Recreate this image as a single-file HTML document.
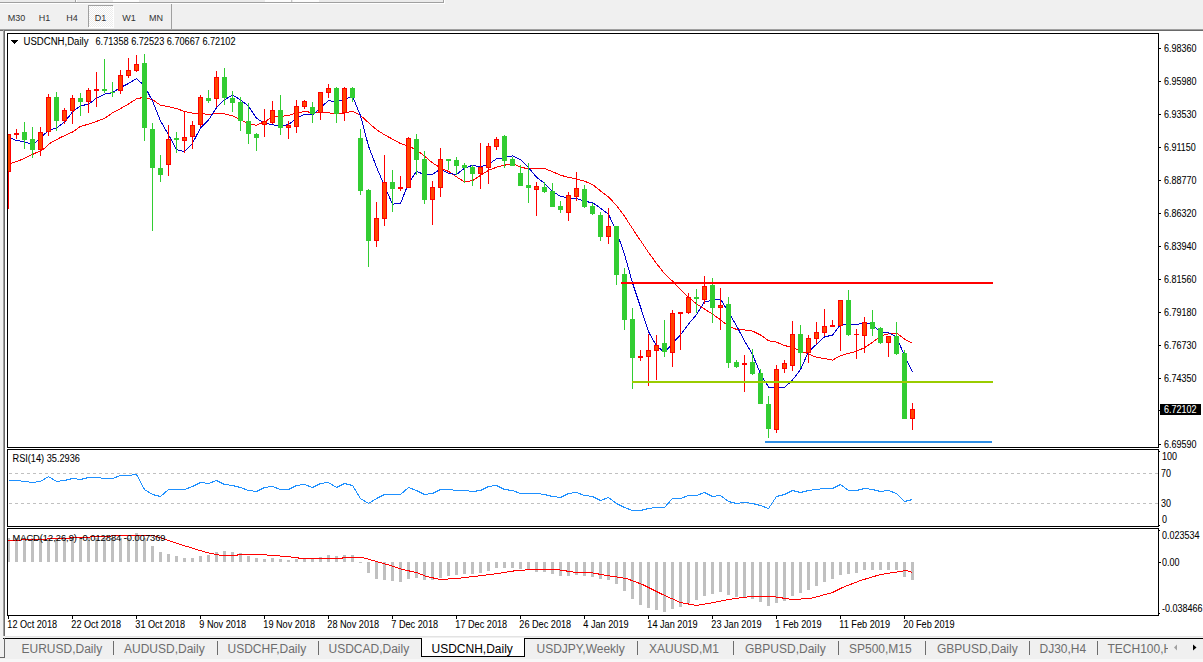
<!DOCTYPE html>
<html><head><meta charset="utf-8"><style>
html,body{margin:0;padding:0;width:1203px;height:662px;overflow:hidden;background:#f0f0f0;font-family:"Liberation Sans",sans-serif;}
svg{display:block;}
</style></head><body>
<svg width="1203" height="662" viewBox="0 0 1203 662" font-family="Liberation Sans, sans-serif"><rect x="0" y="0" width="1203" height="662" fill="#f0f0f0"/>
<rect x="0" y="0" width="443" height="2" fill="#ebebeb"/>
<rect x="75" y="0" width="1" height="2" fill="#a0a0a0"/>
<rect x="76" y="0" width="1" height="2" fill="#ffffff"/>
<rect x="113" y="0" width="26" height="2" fill="#fcfcfc"/>
<rect x="265" y="0" width="26" height="2" fill="#fcfcfc"/>
<rect x="291" y="0" width="1" height="2" fill="#c8c8c8"/>
<rect x="293" y="0" width="26" height="2" fill="#fcfcfc"/>
<rect x="0" y="2" width="444" height="1" fill="#a0a0a0"/>
<rect x="0" y="3" width="445" height="1" fill="#ffffff"/>
<rect x="443" y="0" width="1" height="3" fill="#a0a0a0"/>
<rect x="444" y="0" width="1" height="4" fill="#ffffff"/>
<defs><pattern id="chk" width="2" height="2" patternUnits="userSpaceOnUse"><rect width="2" height="2" fill="#ffffff"/><rect width="1" height="1" fill="#ececec"/><rect x="1" y="1" width="1" height="1" fill="#ececec"/></pattern></defs>
<rect x="88" y="5" width="25" height="22" fill="#a0a0a0"/>
<rect x="89" y="6" width="25" height="22" fill="#ffffff"/>
<rect x="89" y="6" width="24" height="21" fill="url(#chk)"/>
<rect x="171" y="4" width="1" height="25" fill="#a0a0a0"/>
<text x="16.5" y="21" font-size="9" fill="#333333" text-anchor="middle">M30</text>
<text x="44.5" y="21" font-size="9" fill="#333333" text-anchor="middle">H1</text>
<text x="72" y="21" font-size="9" fill="#333333" text-anchor="middle">H4</text>
<text x="100.5" y="21" font-size="9" fill="#333333" text-anchor="middle">D1</text>
<text x="129" y="21" font-size="9" fill="#333333" text-anchor="middle">W1</text>
<text x="156" y="21" font-size="9" fill="#333333" text-anchor="middle">MN</text>
<rect x="0" y="29" width="1203" height="1" fill="#a0a0a0"/>
<rect x="0" y="30" width="1203" height="1" fill="#696969"/>
<rect x="3" y="29" width="1" height="607" fill="#a0a0a0"/>
<rect x="4" y="30" width="1" height="606" fill="#696969"/>
<rect x="5" y="31" width="1198" height="605" fill="#ffffff"/>
<rect x="7" y="33" width="1152" height="1" fill="#000"/>
<rect x="7" y="447" width="1152" height="1" fill="#000"/>
<rect x="7" y="33" width="1" height="415" fill="#000"/>
<rect x="1158" y="33" width="1" height="415" fill="#000"/>
<rect x="7" y="449" width="1152" height="1" fill="#000"/>
<rect x="7" y="526" width="1152" height="1" fill="#000"/>
<rect x="7" y="449" width="1" height="78" fill="#000"/>
<rect x="1158" y="449" width="1" height="78" fill="#000"/>
<rect x="7" y="528" width="1152" height="1" fill="#000"/>
<rect x="7" y="615" width="1152" height="1" fill="#000"/>
<rect x="7" y="528" width="1" height="88" fill="#000"/>
<rect x="1158" y="528" width="1" height="88" fill="#000"/>
<g shape-rendering="crispEdges">
<rect x="1159" y="48" width="2" height="1" fill="#000"/>
<text transform="translate(1164.0,52) scale(0.9,1)" font-size="10" fill="#000" stroke="#000" stroke-width="0.06" >6.98360</text>
<rect x="1159" y="81" width="2" height="1" fill="#000"/>
<text transform="translate(1164.0,85) scale(0.9,1)" font-size="10" fill="#000" stroke="#000" stroke-width="0.06" >6.95980</text>
<rect x="1159" y="114" width="2" height="1" fill="#000"/>
<text transform="translate(1164.0,118) scale(0.9,1)" font-size="10" fill="#000" stroke="#000" stroke-width="0.06" >6.93530</text>
<rect x="1159" y="147" width="2" height="1" fill="#000"/>
<text transform="translate(1164.0,151) scale(0.9,1)" font-size="10" fill="#000" stroke="#000" stroke-width="0.06" >6.91150</text>
<rect x="1159" y="180" width="2" height="1" fill="#000"/>
<text transform="translate(1164.0,184) scale(0.9,1)" font-size="10" fill="#000" stroke="#000" stroke-width="0.06" >6.88770</text>
<rect x="1159" y="213" width="2" height="1" fill="#000"/>
<text transform="translate(1164.0,217) scale(0.9,1)" font-size="10" fill="#000" stroke="#000" stroke-width="0.06" >6.86320</text>
<rect x="1159" y="246" width="2" height="1" fill="#000"/>
<text transform="translate(1164.0,250) scale(0.9,1)" font-size="10" fill="#000" stroke="#000" stroke-width="0.06" >6.83940</text>
<rect x="1159" y="279" width="2" height="1" fill="#000"/>
<text transform="translate(1164.0,283) scale(0.9,1)" font-size="10" fill="#000" stroke="#000" stroke-width="0.06" >6.81560</text>
<rect x="1159" y="312" width="2" height="1" fill="#000"/>
<text transform="translate(1164.0,316) scale(0.9,1)" font-size="10" fill="#000" stroke="#000" stroke-width="0.06" >6.79180</text>
<rect x="1159" y="345" width="2" height="1" fill="#000"/>
<text transform="translate(1164.0,349) scale(0.9,1)" font-size="10" fill="#000" stroke="#000" stroke-width="0.06" >6.76730</text>
<rect x="1159" y="378" width="2" height="1" fill="#000"/>
<text transform="translate(1164.0,382) scale(0.9,1)" font-size="10" fill="#000" stroke="#000" stroke-width="0.06" >6.74350</text>
<rect x="1159" y="444" width="2" height="1" fill="#000"/>
<text transform="translate(1164.0,448) scale(0.9,1)" font-size="10" fill="#000" stroke="#000" stroke-width="0.06" >6.69590</text>
<rect x="1160" y="404" width="41" height="11" fill="#000"/>
<rect x="1159" y="410" width="2" height="1" fill="#000"/>
<text transform="translate(1164.0,413) scale(0.9,1)" font-size="10" fill="#fff" stroke="#fff" stroke-width="0.06" >6.72102</text>
<rect x="1159" y="451" width="1" height="1" fill="#000"/>
<text transform="translate(1162.0,460) scale(0.9,1)" font-size="10" fill="#000" stroke="#000" stroke-width="0.06" >100</text>
<text transform="translate(1161.0,477) scale(0.9,1)" font-size="10" fill="#000" stroke="#000" stroke-width="0.06" >70</text>
<text transform="translate(1161.0,507) scale(0.9,1)" font-size="10" fill="#000" stroke="#000" stroke-width="0.06" >30</text>
<text transform="translate(1162.0,523) scale(0.9,1)" font-size="10" fill="#000" stroke="#000" stroke-width="0.06" >0</text>
<rect x="1159" y="525" width="1" height="1" fill="#000"/>
<rect x="1159" y="530" width="1" height="1" fill="#000"/>
<text transform="translate(1162.0,539) scale(0.9,1)" font-size="10" fill="#000" stroke="#000" stroke-width="0.06" >0.023534</text>
<rect x="1159" y="562" width="2" height="1" fill="#000"/>
<text transform="translate(1162.0,566) scale(0.9,1)" font-size="10" fill="#000" stroke="#000" stroke-width="0.06" >0.00</text>
<rect x="1159" y="613" width="1" height="1" fill="#000"/>
<text transform="translate(1162.0,612) scale(0.9,1)" font-size="10" fill="#000" stroke="#000" stroke-width="0.06" >-0.038466</text>
<rect x="8" y="616" width="1" height="3" fill="#000"/>
<text transform="translate(7.3,628) scale(0.915,1)" font-size="10" fill="#000" stroke="#000" stroke-width="0.06" >12 Oct 2018</text>
<rect x="72" y="616" width="1" height="3" fill="#000"/>
<text transform="translate(71.3,628) scale(0.915,1)" font-size="10" fill="#000" stroke="#000" stroke-width="0.06" >22 Oct 2018</text>
<rect x="136" y="616" width="1" height="3" fill="#000"/>
<text transform="translate(135.3,628) scale(0.915,1)" font-size="10" fill="#000" stroke="#000" stroke-width="0.06" >31 Oct 2018</text>
<rect x="200" y="616" width="1" height="3" fill="#000"/>
<text transform="translate(199.3,628) scale(0.915,1)" font-size="10" fill="#000" stroke="#000" stroke-width="0.06" >9 Nov 2018</text>
<rect x="264" y="616" width="1" height="3" fill="#000"/>
<text transform="translate(263.3,628) scale(0.915,1)" font-size="10" fill="#000" stroke="#000" stroke-width="0.06" >19 Nov 2018</text>
<rect x="328" y="616" width="1" height="3" fill="#000"/>
<text transform="translate(327.3,628) scale(0.915,1)" font-size="10" fill="#000" stroke="#000" stroke-width="0.06" >28 Nov 2018</text>
<rect x="392" y="616" width="1" height="3" fill="#000"/>
<text transform="translate(391.3,628) scale(0.915,1)" font-size="10" fill="#000" stroke="#000" stroke-width="0.06" >7 Dec 2018</text>
<rect x="456" y="616" width="1" height="3" fill="#000"/>
<text transform="translate(455.3,628) scale(0.915,1)" font-size="10" fill="#000" stroke="#000" stroke-width="0.06" >17 Dec 2018</text>
<rect x="520" y="616" width="1" height="3" fill="#000"/>
<text transform="translate(519.3,628) scale(0.915,1)" font-size="10" fill="#000" stroke="#000" stroke-width="0.06" >26 Dec 2018</text>
<rect x="584" y="616" width="1" height="3" fill="#000"/>
<text transform="translate(583.3,628) scale(0.915,1)" font-size="10" fill="#000" stroke="#000" stroke-width="0.06" >4 Jan 2019</text>
<rect x="648" y="616" width="1" height="3" fill="#000"/>
<text transform="translate(647.3,628) scale(0.915,1)" font-size="10" fill="#000" stroke="#000" stroke-width="0.06" >14 Jan 2019</text>
<rect x="712" y="616" width="1" height="3" fill="#000"/>
<text transform="translate(711.3,628) scale(0.915,1)" font-size="10" fill="#000" stroke="#000" stroke-width="0.06" >23 Jan 2019</text>
<rect x="776" y="616" width="1" height="3" fill="#000"/>
<text transform="translate(775.3,628) scale(0.915,1)" font-size="10" fill="#000" stroke="#000" stroke-width="0.06" >1 Feb 2019</text>
<rect x="840" y="616" width="1" height="3" fill="#000"/>
<text transform="translate(839.3,628) scale(0.915,1)" font-size="10" fill="#000" stroke="#000" stroke-width="0.06" >11 Feb 2019</text>
<rect x="904" y="616" width="1" height="3" fill="#000"/>
<text transform="translate(903.3,628) scale(0.915,1)" font-size="10" fill="#000" stroke="#000" stroke-width="0.06" >20 Feb 2019</text>
<line x1="8" y1="473.5" x2="1158" y2="473.5" stroke="#c0c0c0" stroke-width="1" stroke-dasharray="3,3" transform="translate(1,0)"/>
<line x1="8" y1="503.5" x2="1158" y2="503.5" stroke="#c0c0c0" stroke-width="1" stroke-dasharray="3,3" transform="translate(1,0)"/>
<polyline points="8.5,480.5 16.5,480.5 24.5,481.5 32.5,482.5 40.5,481.5 48.5,476.5 56.5,481.5 64.5,480.5 72.5,478.5 80.5,479.5 88.5,477.5 96.5,477.5 104.5,478.5 112.5,478.5 120.5,475.5 128.5,475.5 136.5,474.5 144.5,489.5 152.5,494.5 160.5,496.5 168.5,489.5 176.5,489.5 184.5,489.5 192.5,486.5 200.5,482.5 208.5,483.5 216.5,480.5 224.5,484.5 232.5,485.5 240.5,487.5 248.5,490.5 256.5,491.5 264.5,487.5 272.5,486.5 280.5,489.5 288.5,489.5 296.5,485.5 304.5,484.5 312.5,487.5 320.5,483.5 328.5,482.5 336.5,487.5 344.5,483.5 352.5,485.5 360.5,498.5 368.5,503.5 376.5,498.5 384.5,494.5 392.5,494.5 400.5,494.5 408.5,487.5 416.5,490.5 424.5,494.5 432.5,493.5 440.5,489.5 448.5,489.5 456.5,490.5 464.5,490.5 472.5,491.5 480.5,490.5 488.5,486.5 496.5,485.5 504.5,489.5 512.5,490.5 520.5,493.5 528.5,493.5 536.5,493.5 544.5,494.5 552.5,496.5 560.5,497.5 568.5,493.5 576.5,492.5 584.5,495.5 592.5,496.5 600.5,500.5 608.5,497.5 616.5,503.5 624.5,507.5 632.5,510.5 640.5,510.5 648.5,508.5 656.5,507.5 664.5,507.5 672.5,498.5 680.5,498.5 688.5,495.5 696.5,495.5 704.5,492.5 712.5,496.5 720.5,495.5 728.5,501.5 736.5,503.5 744.5,502.5 752.5,503.5 760.5,505.5 768.5,508.5 776.5,496.5 784.5,494.5 792.5,490.5 800.5,492.5 808.5,490.5 816.5,489.5 824.5,488.5 832.5,488.5 840.5,484.5 848.5,490.5 856.5,490.5 864.5,488.5 872.5,489.5 880.5,491.5 888.5,490.5 896.5,493.5 904.5,501.5 912.5,499.5" fill="none" stroke="#1e90ff" stroke-width="1"/>
<text transform="translate(12.5,462) scale(0.92,1)" font-size="10" fill="#000" stroke="#000" stroke-width="0.06" >RSI(14) 35.2936</text>
<clipPath id="macdclip"><rect x="8" y="529" width="1150" height="86"/></clipPath>
<g clip-path="url(#macdclip)">
<rect x="7" y="538" width="3" height="24" fill="#c0c0c0"/>
<rect x="15" y="538" width="3" height="24" fill="#c0c0c0"/>
<rect x="23" y="538" width="3" height="24" fill="#c0c0c0"/>
<rect x="31" y="538" width="3" height="24" fill="#c0c0c0"/>
<rect x="39" y="538" width="3" height="24" fill="#c0c0c0"/>
<rect x="47" y="538" width="3" height="24" fill="#c0c0c0"/>
<rect x="55" y="538" width="3" height="24" fill="#c0c0c0"/>
<rect x="63" y="538" width="3" height="24" fill="#c0c0c0"/>
<rect x="71" y="538" width="3" height="24" fill="#c0c0c0"/>
<rect x="79" y="538" width="3" height="24" fill="#c0c0c0"/>
<rect x="87" y="538" width="3" height="24" fill="#c0c0c0"/>
<rect x="95" y="538" width="3" height="24" fill="#c0c0c0"/>
<rect x="103" y="538" width="3" height="24" fill="#c0c0c0"/>
<rect x="111" y="538" width="3" height="24" fill="#c0c0c0"/>
<rect x="119" y="538" width="3" height="24" fill="#c0c0c0"/>
<rect x="127" y="538" width="3" height="24" fill="#c0c0c0"/>
<rect x="135" y="533" width="3" height="29" fill="#c0c0c0"/>
<rect x="143" y="538" width="3" height="24" fill="#c0c0c0"/>
<rect x="151" y="546" width="3" height="16" fill="#c0c0c0"/>
<rect x="159" y="552" width="3" height="10" fill="#c0c0c0"/>
<rect x="167" y="554" width="3" height="8" fill="#c0c0c0"/>
<rect x="175" y="556" width="3" height="6" fill="#c0c0c0"/>
<rect x="183" y="558" width="3" height="4" fill="#c0c0c0"/>
<rect x="191" y="558" width="3" height="4" fill="#c0c0c0"/>
<rect x="199" y="556" width="3" height="6" fill="#c0c0c0"/>
<rect x="207" y="555" width="3" height="7" fill="#c0c0c0"/>
<rect x="215" y="552" width="3" height="10" fill="#c0c0c0"/>
<rect x="223" y="551" width="3" height="11" fill="#c0c0c0"/>
<rect x="231" y="552" width="3" height="10" fill="#c0c0c0"/>
<rect x="239" y="553" width="3" height="9" fill="#c0c0c0"/>
<rect x="247" y="556" width="3" height="6" fill="#c0c0c0"/>
<rect x="255" y="558" width="3" height="4" fill="#c0c0c0"/>
<rect x="263" y="559" width="3" height="3" fill="#c0c0c0"/>
<rect x="271" y="558" width="3" height="4" fill="#c0c0c0"/>
<rect x="279" y="559" width="3" height="3" fill="#c0c0c0"/>
<rect x="287" y="560" width="3" height="2" fill="#c0c0c0"/>
<rect x="295" y="559" width="3" height="3" fill="#c0c0c0"/>
<rect x="303" y="558" width="3" height="4" fill="#c0c0c0"/>
<rect x="311" y="558" width="3" height="4" fill="#c0c0c0"/>
<rect x="319" y="557" width="3" height="5" fill="#c0c0c0"/>
<rect x="327" y="555" width="3" height="7" fill="#c0c0c0"/>
<rect x="335" y="556" width="3" height="6" fill="#c0c0c0"/>
<rect x="343" y="555" width="3" height="7" fill="#c0c0c0"/>
<rect x="351" y="555" width="3" height="7" fill="#c0c0c0"/>
<rect x="359" y="562" width="3" height="1" fill="#c0c0c0"/>
<rect x="367" y="562" width="3" height="11" fill="#c0c0c0"/>
<rect x="375" y="562" width="3" height="17" fill="#c0c0c0"/>
<rect x="383" y="562" width="3" height="18" fill="#c0c0c0"/>
<rect x="391" y="562" width="3" height="19" fill="#c0c0c0"/>
<rect x="399" y="562" width="3" height="20" fill="#c0c0c0"/>
<rect x="407" y="562" width="3" height="17" fill="#c0c0c0"/>
<rect x="415" y="562" width="3" height="16" fill="#c0c0c0"/>
<rect x="423" y="562" width="3" height="18" fill="#c0c0c0"/>
<rect x="431" y="562" width="3" height="18" fill="#c0c0c0"/>
<rect x="439" y="562" width="3" height="16" fill="#c0c0c0"/>
<rect x="447" y="562" width="3" height="14" fill="#c0c0c0"/>
<rect x="455" y="562" width="3" height="13" fill="#c0c0c0"/>
<rect x="463" y="562" width="3" height="12" fill="#c0c0c0"/>
<rect x="471" y="562" width="3" height="12" fill="#c0c0c0"/>
<rect x="479" y="562" width="3" height="11" fill="#c0c0c0"/>
<rect x="487" y="562" width="3" height="9" fill="#c0c0c0"/>
<rect x="495" y="562" width="3" height="6" fill="#c0c0c0"/>
<rect x="503" y="562" width="3" height="6" fill="#c0c0c0"/>
<rect x="511" y="562" width="3" height="6" fill="#c0c0c0"/>
<rect x="519" y="562" width="3" height="7" fill="#c0c0c0"/>
<rect x="527" y="562" width="3" height="8" fill="#c0c0c0"/>
<rect x="535" y="562" width="3" height="10" fill="#c0c0c0"/>
<rect x="543" y="562" width="3" height="10" fill="#c0c0c0"/>
<rect x="551" y="562" width="3" height="12" fill="#c0c0c0"/>
<rect x="559" y="562" width="3" height="14" fill="#c0c0c0"/>
<rect x="567" y="562" width="3" height="14" fill="#c0c0c0"/>
<rect x="575" y="562" width="3" height="13" fill="#c0c0c0"/>
<rect x="583" y="562" width="3" height="14" fill="#c0c0c0"/>
<rect x="591" y="562" width="3" height="15" fill="#c0c0c0"/>
<rect x="599" y="562" width="3" height="17" fill="#c0c0c0"/>
<rect x="607" y="562" width="3" height="18" fill="#c0c0c0"/>
<rect x="615" y="562" width="3" height="22" fill="#c0c0c0"/>
<rect x="623" y="562" width="3" height="29" fill="#c0c0c0"/>
<rect x="631" y="562" width="3" height="37" fill="#c0c0c0"/>
<rect x="639" y="562" width="3" height="43" fill="#c0c0c0"/>
<rect x="647" y="562" width="3" height="46" fill="#c0c0c0"/>
<rect x="655" y="562" width="3" height="48" fill="#c0c0c0"/>
<rect x="663" y="562" width="3" height="50" fill="#c0c0c0"/>
<rect x="671" y="562" width="3" height="47" fill="#c0c0c0"/>
<rect x="679" y="562" width="3" height="45" fill="#c0c0c0"/>
<rect x="687" y="562" width="3" height="41" fill="#c0c0c0"/>
<rect x="695" y="562" width="3" height="38" fill="#c0c0c0"/>
<rect x="703" y="562" width="3" height="34" fill="#c0c0c0"/>
<rect x="711" y="562" width="3" height="32" fill="#c0c0c0"/>
<rect x="719" y="562" width="3" height="30" fill="#c0c0c0"/>
<rect x="727" y="562" width="3" height="33" fill="#c0c0c0"/>
<rect x="735" y="562" width="3" height="35" fill="#c0c0c0"/>
<rect x="743" y="562" width="3" height="35" fill="#c0c0c0"/>
<rect x="751" y="562" width="3" height="37" fill="#c0c0c0"/>
<rect x="759" y="562" width="3" height="40" fill="#c0c0c0"/>
<rect x="767" y="562" width="3" height="44" fill="#c0c0c0"/>
<rect x="775" y="562" width="3" height="41" fill="#c0c0c0"/>
<rect x="783" y="562" width="3" height="39" fill="#c0c0c0"/>
<rect x="791" y="562" width="3" height="34" fill="#c0c0c0"/>
<rect x="799" y="562" width="3" height="31" fill="#c0c0c0"/>
<rect x="807" y="562" width="3" height="28" fill="#c0c0c0"/>
<rect x="815" y="562" width="3" height="24" fill="#c0c0c0"/>
<rect x="823" y="562" width="3" height="20" fill="#c0c0c0"/>
<rect x="831" y="562" width="3" height="17" fill="#c0c0c0"/>
<rect x="839" y="562" width="3" height="13" fill="#c0c0c0"/>
<rect x="847" y="562" width="3" height="12" fill="#c0c0c0"/>
<rect x="855" y="562" width="3" height="11" fill="#c0c0c0"/>
<rect x="863" y="562" width="3" height="8" fill="#c0c0c0"/>
<rect x="871" y="562" width="3" height="8" fill="#c0c0c0"/>
<rect x="879" y="562" width="3" height="8" fill="#c0c0c0"/>
<rect x="887" y="562" width="3" height="8" fill="#c0c0c0"/>
<rect x="895" y="562" width="3" height="8" fill="#c0c0c0"/>
<rect x="903" y="562" width="3" height="15" fill="#c0c0c0"/>
<rect x="911" y="562" width="3" height="18" fill="#c0c0c0"/>
<polyline points="8.5,540.5 60.5,538.5 100.5,536.5 121.5,535.5 153.5,535.5 165.5,539.5 180.5,544.5 193.5,548.5 206.5,552.5 216.5,554.5 221.5,555.5 234.5,555.5 240.5,554.5 260.5,554.5 286.5,556.5 302.5,558.5 340.5,558.5 344.5,557.5 362.5,557.5 376.5,561.5 390.5,565.5 402.5,569.5 416.5,572.5 426.5,576.5 440.5,579.5 456.5,578.5 482.5,575.5 498.5,573.5 516.5,570.5 534.5,569.5 556.5,569.5 576.5,572.5 590.5,572.5 606.5,575.5 626.5,578.5 642.5,584.5 662.5,594.5 680.5,602.5 696.5,605.5 708.5,603.5 728.5,599.5 750.5,596.5 772.5,596.5 792.5,599.5 810.5,598.5 832.5,592.5 842.5,587.5 860.5,580.5 880.5,574.5 900.5,571.5 906.5,570.5 912.5,572.5" fill="none" stroke="#ff0000" stroke-width="1"/>
</g>
<text x="12.5" y="540.5" font-size="9.3" fill="#000" stroke="#000" stroke-width="0.06" textLength="153" lengthAdjust="spacingAndGlyphs">MACD(12,26,9) -0.012884 -0.007369</text>
<clipPath id="mainclip"><rect x="8" y="34" width="1150" height="413"/></clipPath>
<g clip-path="url(#mainclip)">
<polyline points="11.1,163.5 21.8,159.5 32.4,154.5 43.1,149.5 49.7,143.5 60.4,137.5 73.6,131.5 80.3,126.5 90.9,123.5 104.2,118.5 112.5,112.9 120.5,108.6 128.5,104.1 136.5,98.8 144.5,97.2 152.5,99.7 160.5,105.2 168.5,106.6 176.5,108.6 184.5,111.4 192.5,113.1 200.5,113.6 208.5,114.4 216.5,113.5 224.5,113.9 232.5,115.9 240.5,119.4 248.5,124.4 256.5,125.1 264.5,121.8 272.5,117.2 280.5,116.4 288.5,115.4 296.5,113.1 304.5,111.4 312.5,112.6 320.5,112.0 328.5,112.8 336.5,113.9 344.5,112.9 352.5,111.3 360.5,115.4 368.5,122.7 376.5,129.6 384.5,134.8 392.5,139.1 400.5,143.6 408.5,145.9 416.5,150.0 424.5,156.1 432.5,162.9 440.5,168.0 448.5,171.4 456.5,176.9 464.5,181.9 472.5,180.6 480.5,175.4 488.5,170.3 496.5,167.2 504.5,165.2 512.5,163.6 520.5,167.0 528.5,169.0 536.5,168.1 544.5,168.4 552.5,171.7 560.5,175.2 568.5,177.4 576.5,178.9 584.5,181.2 592.5,184.5 600.5,190.9 608.5,197.1 616.5,205.3 624.5,216.3 632.5,228.6 640.5,240.6 648.5,252.4 656.5,263.4 664.5,273.7 672.5,281.1 680.5,289.5 688.5,297.3 696.5,303.9 704.5,309.1 712.5,314.1 720.5,319.8 728.5,326.1 736.5,329.4 744.5,329.9 752.5,331.1 760.5,334.9 768.5,340.8 776.5,342.1 784.5,345.6 792.5,347.2 800.5,351.1 808.5,354.0 816.5,357.3 824.5,358.6 832.5,360.1 840.5,355.6 848.5,353.4 856.5,351.3 864.5,347.6 872.5,342.3 880.5,336.1 888.5,333.8 896.5,333.1 904.5,339.1 912.5,343.1" fill="none" stroke="#ff0000" stroke-width="1"/>
<polyline points="11.4,138.5 16.2,140.5 22.9,141.5 30.1,143.5 35.6,142.5 40.5,137.9 48.5,130.5 56.5,127.9 64.5,122.1 72.5,111.9 80.5,105.7 88.5,104.3 96.5,98.1 104.5,94.1 112.5,92.7 120.5,87.5 128.5,83.5 136.5,78.5 144.5,85.9 152.5,101.1 160.5,120.9 168.5,134.7 176.5,149.7 184.5,151.7 192.5,143.3 200.5,127.9 208.5,120.1 216.5,107.7 224.5,99.7 232.5,95.1 240.5,99.7 248.5,106.3 256.5,118.3 264.5,123.1 272.5,124.7 280.5,126.1 288.5,124.5 296.5,118.3 304.5,114.3 312.5,114.9 320.5,107.9 328.5,100.5 336.5,101.9 344.5,99.3 352.5,96.1 360.5,115.7 368.5,146.1 376.5,167.1 384.5,185.9 392.5,204.1 400.5,203.5 408.5,183.1 416.5,171.3 424.5,174.7 432.5,174.5 440.5,168.9 448.5,173.3 456.5,174.5 464.5,168.1 472.5,165.3 480.5,166.9 488.5,164.1 496.5,158.9 504.5,157.5 512.5,155.9 520.5,159.5 528.5,167.7 536.5,177.1 544.5,183.3 552.5,191.5 560.5,196.3 568.5,197.9 576.5,198.3 584.5,201.3 592.5,202.7 600.5,208.1 608.5,214.3 616.5,231.5 624.5,254.1 632.5,282.9 640.5,306.9 648.5,331.7 656.5,345.9 664.5,352.3 672.5,343.5 680.5,334.7 688.5,324.1 696.5,314.7 704.5,301.7 712.5,300.5 720.5,299.1 728.5,312.1 736.5,325.7 744.5,341.1 752.5,354.3 760.5,373.9 768.5,387.1 776.5,387.7 784.5,387.7 792.5,379.9 800.5,369.7 808.5,351.7 816.5,344.3 824.5,336.9 832.5,335.1 840.5,324.7 848.5,323.9 856.5,324.3 864.5,323.5 872.5,324.1 880.5,332.5 888.5,332.9 896.5,336.7 904.5,355.9 912.5,372.1" fill="none" stroke="#0000cd" stroke-width="1"/>
<rect x="8" y="134" width="1" height="75" fill="#ff0000"/>
<rect x="6" y="134" width="5" height="38" fill="#ff0000"/>
<rect x="7" y="135" width="3" height="36" fill="#ff4500"/>
<rect x="16" y="129" width="1" height="10" fill="#ff0000"/>
<rect x="14" y="133" width="5" height="2" fill="#ff0000"/>
<rect x="24" y="122" width="1" height="27" fill="#32cd32"/>
<rect x="22" y="132" width="5" height="8" fill="#32cd32"/>
<rect x="32" y="127" width="1" height="31" fill="#32cd32"/>
<rect x="30" y="139" width="5" height="11" fill="#32cd32"/>
<rect x="40" y="127" width="1" height="29" fill="#ff0000"/>
<rect x="38" y="132" width="5" height="18" fill="#ff0000"/>
<rect x="39" y="133" width="3" height="16" fill="#ff4500"/>
<rect x="48" y="94" width="1" height="42" fill="#ff0000"/>
<rect x="46" y="97" width="5" height="35" fill="#ff0000"/>
<rect x="47" y="98" width="3" height="33" fill="#ff4500"/>
<rect x="56" y="92" width="1" height="39" fill="#32cd32"/>
<rect x="54" y="97" width="5" height="24" fill="#32cd32"/>
<rect x="64" y="108" width="1" height="16" fill="#ff0000"/>
<rect x="62" y="110" width="5" height="11" fill="#ff0000"/>
<rect x="63" y="111" width="3" height="9" fill="#ff4500"/>
<rect x="72" y="95" width="1" height="29" fill="#ff0000"/>
<rect x="70" y="98" width="5" height="13" fill="#ff0000"/>
<rect x="71" y="99" width="3" height="11" fill="#ff4500"/>
<rect x="80" y="93" width="1" height="23" fill="#32cd32"/>
<rect x="78" y="98" width="5" height="4" fill="#32cd32"/>
<rect x="88" y="88" width="1" height="25" fill="#ff0000"/>
<rect x="86" y="90" width="5" height="12" fill="#ff0000"/>
<rect x="87" y="91" width="3" height="10" fill="#ff4500"/>
<rect x="96" y="72" width="1" height="35" fill="#ff0000"/>
<rect x="94" y="89" width="5" height="2" fill="#ff0000"/>
<rect x="104" y="59" width="1" height="34" fill="#32cd32"/>
<rect x="102" y="89" width="5" height="2" fill="#32cd32"/>
<rect x="112" y="82" width="1" height="15" fill="#32cd32"/>
<rect x="110" y="92" width="5" height="1" fill="#32cd32"/>
<rect x="120" y="70" width="1" height="24" fill="#ff0000"/>
<rect x="118" y="75" width="5" height="16" fill="#ff0000"/>
<rect x="119" y="76" width="3" height="14" fill="#ff4500"/>
<rect x="128" y="58" width="1" height="20" fill="#ff0000"/>
<rect x="126" y="70" width="5" height="6" fill="#ff0000"/>
<rect x="127" y="71" width="3" height="4" fill="#ff4500"/>
<rect x="136" y="55" width="1" height="17" fill="#ff0000"/>
<rect x="134" y="64" width="5" height="7" fill="#ff0000"/>
<rect x="135" y="65" width="3" height="5" fill="#ff4500"/>
<rect x="144" y="54" width="1" height="87" fill="#32cd32"/>
<rect x="142" y="63" width="5" height="65" fill="#32cd32"/>
<rect x="152" y="123" width="1" height="108" fill="#32cd32"/>
<rect x="150" y="129" width="5" height="39" fill="#32cd32"/>
<rect x="160" y="155" width="1" height="27" fill="#32cd32"/>
<rect x="158" y="168" width="5" height="7" fill="#32cd32"/>
<rect x="168" y="125" width="1" height="51" fill="#ff0000"/>
<rect x="166" y="139" width="5" height="26" fill="#ff0000"/>
<rect x="167" y="140" width="3" height="24" fill="#ff4500"/>
<rect x="176" y="132" width="1" height="21" fill="#32cd32"/>
<rect x="174" y="138" width="5" height="2" fill="#32cd32"/>
<rect x="184" y="111" width="1" height="42" fill="#ff0000"/>
<rect x="182" y="137" width="5" height="4" fill="#ff0000"/>
<rect x="183" y="138" width="3" height="2" fill="#ff4500"/>
<rect x="192" y="121" width="1" height="28" fill="#ff0000"/>
<rect x="190" y="125" width="5" height="12" fill="#ff0000"/>
<rect x="191" y="126" width="3" height="10" fill="#ff4500"/>
<rect x="200" y="95" width="1" height="32" fill="#ff0000"/>
<rect x="198" y="97" width="5" height="28" fill="#ff0000"/>
<rect x="199" y="98" width="3" height="26" fill="#ff4500"/>
<rect x="208" y="90" width="1" height="13" fill="#32cd32"/>
<rect x="206" y="98" width="5" height="3" fill="#32cd32"/>
<rect x="216" y="71" width="1" height="36" fill="#ff0000"/>
<rect x="214" y="77" width="5" height="22" fill="#ff0000"/>
<rect x="215" y="78" width="3" height="20" fill="#ff4500"/>
<rect x="224" y="68" width="1" height="37" fill="#32cd32"/>
<rect x="222" y="77" width="5" height="21" fill="#32cd32"/>
<rect x="232" y="91" width="1" height="21" fill="#32cd32"/>
<rect x="230" y="98" width="5" height="5" fill="#32cd32"/>
<rect x="240" y="97" width="1" height="34" fill="#32cd32"/>
<rect x="238" y="102" width="5" height="19" fill="#32cd32"/>
<rect x="248" y="103" width="1" height="41" fill="#32cd32"/>
<rect x="246" y="121" width="5" height="13" fill="#32cd32"/>
<rect x="256" y="133" width="1" height="18" fill="#32cd32"/>
<rect x="254" y="134" width="5" height="4" fill="#32cd32"/>
<rect x="264" y="109" width="1" height="28" fill="#ff0000"/>
<rect x="262" y="121" width="5" height="4" fill="#ff0000"/>
<rect x="263" y="122" width="3" height="2" fill="#ff4500"/>
<rect x="272" y="101" width="1" height="23" fill="#ff0000"/>
<rect x="270" y="110" width="5" height="13" fill="#ff0000"/>
<rect x="271" y="111" width="3" height="11" fill="#ff4500"/>
<rect x="280" y="95" width="1" height="40" fill="#32cd32"/>
<rect x="278" y="110" width="5" height="18" fill="#32cd32"/>
<rect x="288" y="121" width="1" height="18" fill="#ff0000"/>
<rect x="286" y="125" width="5" height="3" fill="#ff0000"/>
<rect x="287" y="126" width="3" height="1" fill="#ff4500"/>
<rect x="296" y="100" width="1" height="33" fill="#ff0000"/>
<rect x="294" y="106" width="5" height="21" fill="#ff0000"/>
<rect x="295" y="107" width="3" height="19" fill="#ff4500"/>
<rect x="304" y="100" width="1" height="9" fill="#ff0000"/>
<rect x="302" y="101" width="5" height="6" fill="#ff0000"/>
<rect x="303" y="102" width="3" height="4" fill="#ff4500"/>
<rect x="312" y="102" width="1" height="21" fill="#32cd32"/>
<rect x="310" y="107" width="5" height="7" fill="#32cd32"/>
<rect x="320" y="92" width="1" height="28" fill="#ff0000"/>
<rect x="318" y="92" width="5" height="21" fill="#ff0000"/>
<rect x="319" y="93" width="3" height="19" fill="#ff4500"/>
<rect x="328" y="84" width="1" height="14" fill="#ff0000"/>
<rect x="326" y="88" width="5" height="5" fill="#ff0000"/>
<rect x="327" y="89" width="3" height="3" fill="#ff4500"/>
<rect x="336" y="87" width="1" height="36" fill="#32cd32"/>
<rect x="334" y="88" width="5" height="26" fill="#32cd32"/>
<rect x="344" y="87" width="1" height="34" fill="#ff0000"/>
<rect x="342" y="88" width="5" height="25" fill="#ff0000"/>
<rect x="343" y="89" width="3" height="23" fill="#ff4500"/>
<rect x="352" y="87" width="1" height="15" fill="#32cd32"/>
<rect x="350" y="88" width="5" height="10" fill="#32cd32"/>
<rect x="360" y="129" width="1" height="66" fill="#32cd32"/>
<rect x="358" y="138" width="5" height="53" fill="#32cd32"/>
<rect x="368" y="189" width="1" height="78" fill="#32cd32"/>
<rect x="366" y="190" width="5" height="51" fill="#32cd32"/>
<rect x="376" y="202" width="1" height="45" fill="#ff0000"/>
<rect x="374" y="218" width="5" height="23" fill="#ff0000"/>
<rect x="375" y="219" width="3" height="21" fill="#ff4500"/>
<rect x="384" y="155" width="1" height="71" fill="#ff0000"/>
<rect x="382" y="182" width="5" height="37" fill="#ff0000"/>
<rect x="383" y="183" width="3" height="35" fill="#ff4500"/>
<rect x="392" y="170" width="1" height="42" fill="#32cd32"/>
<rect x="390" y="182" width="5" height="7" fill="#32cd32"/>
<rect x="400" y="176" width="1" height="15" fill="#ff0000"/>
<rect x="398" y="187" width="5" height="2" fill="#ff0000"/>
<rect x="408" y="137" width="1" height="51" fill="#ff0000"/>
<rect x="406" y="138" width="5" height="50" fill="#ff0000"/>
<rect x="407" y="139" width="3" height="48" fill="#ff4500"/>
<rect x="416" y="134" width="1" height="41" fill="#32cd32"/>
<rect x="414" y="139" width="5" height="21" fill="#32cd32"/>
<rect x="424" y="151" width="1" height="53" fill="#32cd32"/>
<rect x="422" y="159" width="5" height="41" fill="#32cd32"/>
<rect x="432" y="181" width="1" height="44" fill="#ff0000"/>
<rect x="430" y="187" width="5" height="13" fill="#ff0000"/>
<rect x="431" y="188" width="3" height="11" fill="#ff4500"/>
<rect x="440" y="148" width="1" height="49" fill="#ff0000"/>
<rect x="438" y="159" width="5" height="29" fill="#ff0000"/>
<rect x="439" y="160" width="3" height="27" fill="#ff4500"/>
<rect x="448" y="159" width="1" height="11" fill="#32cd32"/>
<rect x="446" y="159" width="5" height="2" fill="#32cd32"/>
<rect x="456" y="157" width="1" height="18" fill="#32cd32"/>
<rect x="454" y="160" width="5" height="6" fill="#32cd32"/>
<rect x="464" y="163" width="1" height="20" fill="#32cd32"/>
<rect x="462" y="165" width="5" height="3" fill="#32cd32"/>
<rect x="472" y="165" width="1" height="21" fill="#32cd32"/>
<rect x="470" y="167" width="5" height="7" fill="#32cd32"/>
<rect x="480" y="143" width="1" height="46" fill="#ff0000"/>
<rect x="478" y="167" width="5" height="7" fill="#ff0000"/>
<rect x="479" y="168" width="3" height="5" fill="#ff4500"/>
<rect x="488" y="143" width="1" height="41" fill="#ff0000"/>
<rect x="486" y="146" width="5" height="22" fill="#ff0000"/>
<rect x="487" y="147" width="3" height="20" fill="#ff4500"/>
<rect x="496" y="137" width="1" height="13" fill="#ff0000"/>
<rect x="494" y="139" width="5" height="8" fill="#ff0000"/>
<rect x="495" y="140" width="3" height="6" fill="#ff4500"/>
<rect x="504" y="135" width="1" height="33" fill="#32cd32"/>
<rect x="502" y="136" width="5" height="25" fill="#32cd32"/>
<rect x="512" y="157" width="1" height="9" fill="#32cd32"/>
<rect x="510" y="159" width="5" height="7" fill="#32cd32"/>
<rect x="520" y="165" width="1" height="21" fill="#32cd32"/>
<rect x="518" y="173" width="5" height="13" fill="#32cd32"/>
<rect x="528" y="163" width="1" height="40" fill="#32cd32"/>
<rect x="526" y="185" width="5" height="3" fill="#32cd32"/>
<rect x="536" y="182" width="1" height="34" fill="#ff0000"/>
<rect x="534" y="186" width="5" height="4" fill="#ff0000"/>
<rect x="535" y="187" width="3" height="2" fill="#ff4500"/>
<rect x="544" y="182" width="1" height="11" fill="#32cd32"/>
<rect x="542" y="187" width="5" height="5" fill="#32cd32"/>
<rect x="552" y="183" width="1" height="24" fill="#32cd32"/>
<rect x="550" y="191" width="5" height="16" fill="#32cd32"/>
<rect x="560" y="201" width="1" height="12" fill="#32cd32"/>
<rect x="558" y="206" width="5" height="4" fill="#32cd32"/>
<rect x="568" y="192" width="1" height="29" fill="#ff0000"/>
<rect x="566" y="195" width="5" height="18" fill="#ff0000"/>
<rect x="567" y="196" width="3" height="16" fill="#ff4500"/>
<rect x="576" y="172" width="1" height="29" fill="#ff0000"/>
<rect x="574" y="188" width="5" height="9" fill="#ff0000"/>
<rect x="575" y="189" width="3" height="7" fill="#ff4500"/>
<rect x="584" y="185" width="1" height="23" fill="#32cd32"/>
<rect x="582" y="189" width="5" height="18" fill="#32cd32"/>
<rect x="592" y="203" width="1" height="12" fill="#32cd32"/>
<rect x="590" y="206" width="5" height="8" fill="#32cd32"/>
<rect x="600" y="212" width="1" height="29" fill="#32cd32"/>
<rect x="598" y="215" width="5" height="22" fill="#32cd32"/>
<rect x="608" y="208" width="1" height="36" fill="#ff0000"/>
<rect x="606" y="226" width="5" height="11" fill="#ff0000"/>
<rect x="607" y="227" width="3" height="9" fill="#ff4500"/>
<rect x="616" y="226" width="1" height="59" fill="#32cd32"/>
<rect x="614" y="226" width="5" height="49" fill="#32cd32"/>
<rect x="624" y="268" width="1" height="62" fill="#32cd32"/>
<rect x="622" y="274" width="5" height="46" fill="#32cd32"/>
<rect x="632" y="308" width="1" height="81" fill="#32cd32"/>
<rect x="630" y="319" width="5" height="39" fill="#32cd32"/>
<rect x="640" y="350" width="1" height="11" fill="#ff0000"/>
<rect x="638" y="356" width="5" height="2" fill="#ff0000"/>
<rect x="648" y="334" width="1" height="52" fill="#ff0000"/>
<rect x="646" y="350" width="5" height="7" fill="#ff0000"/>
<rect x="647" y="351" width="3" height="5" fill="#ff4500"/>
<rect x="656" y="335" width="1" height="45" fill="#ff0000"/>
<rect x="654" y="345" width="5" height="6" fill="#ff0000"/>
<rect x="655" y="346" width="3" height="4" fill="#ff4500"/>
<rect x="664" y="320" width="1" height="37" fill="#32cd32"/>
<rect x="662" y="343" width="5" height="9" fill="#32cd32"/>
<rect x="672" y="310" width="1" height="57" fill="#ff0000"/>
<rect x="670" y="313" width="5" height="40" fill="#ff0000"/>
<rect x="671" y="314" width="3" height="38" fill="#ff4500"/>
<rect x="680" y="312" width="1" height="38" fill="#ff0000"/>
<rect x="678" y="312" width="5" height="2" fill="#ff0000"/>
<rect x="688" y="293" width="1" height="21" fill="#ff0000"/>
<rect x="686" y="297" width="5" height="16" fill="#ff0000"/>
<rect x="687" y="298" width="3" height="14" fill="#ff4500"/>
<rect x="696" y="289" width="1" height="24" fill="#32cd32"/>
<rect x="694" y="297" width="5" height="2" fill="#32cd32"/>
<rect x="704" y="276" width="1" height="28" fill="#ff0000"/>
<rect x="702" y="286" width="5" height="14" fill="#ff0000"/>
<rect x="703" y="287" width="3" height="12" fill="#ff4500"/>
<rect x="712" y="278" width="1" height="45" fill="#32cd32"/>
<rect x="710" y="285" width="5" height="23" fill="#32cd32"/>
<rect x="720" y="288" width="1" height="42" fill="#ff0000"/>
<rect x="718" y="305" width="5" height="3" fill="#ff0000"/>
<rect x="719" y="306" width="3" height="1" fill="#ff4500"/>
<rect x="728" y="297" width="1" height="71" fill="#32cd32"/>
<rect x="726" y="304" width="5" height="59" fill="#32cd32"/>
<rect x="736" y="360" width="1" height="8" fill="#32cd32"/>
<rect x="734" y="362" width="5" height="5" fill="#32cd32"/>
<rect x="744" y="355" width="1" height="37" fill="#ff0000"/>
<rect x="742" y="363" width="5" height="2" fill="#ff0000"/>
<rect x="752" y="349" width="1" height="26" fill="#32cd32"/>
<rect x="750" y="362" width="5" height="12" fill="#32cd32"/>
<rect x="760" y="369" width="1" height="35" fill="#32cd32"/>
<rect x="758" y="373" width="5" height="31" fill="#32cd32"/>
<rect x="768" y="396" width="1" height="42" fill="#32cd32"/>
<rect x="766" y="404" width="5" height="25" fill="#32cd32"/>
<rect x="776" y="365" width="1" height="68" fill="#ff0000"/>
<rect x="774" y="369" width="5" height="61" fill="#ff0000"/>
<rect x="775" y="370" width="3" height="59" fill="#ff4500"/>
<rect x="784" y="360" width="1" height="13" fill="#ff0000"/>
<rect x="782" y="363" width="5" height="6" fill="#ff0000"/>
<rect x="783" y="364" width="3" height="4" fill="#ff4500"/>
<rect x="792" y="321" width="1" height="50" fill="#ff0000"/>
<rect x="790" y="334" width="5" height="32" fill="#ff0000"/>
<rect x="791" y="335" width="3" height="30" fill="#ff4500"/>
<rect x="800" y="325" width="1" height="43" fill="#32cd32"/>
<rect x="798" y="334" width="5" height="19" fill="#32cd32"/>
<rect x="808" y="335" width="1" height="28" fill="#ff0000"/>
<rect x="806" y="338" width="5" height="15" fill="#ff0000"/>
<rect x="807" y="339" width="3" height="13" fill="#ff4500"/>
<rect x="816" y="322" width="1" height="22" fill="#ff0000"/>
<rect x="814" y="332" width="5" height="7" fill="#ff0000"/>
<rect x="815" y="333" width="3" height="5" fill="#ff4500"/>
<rect x="824" y="309" width="1" height="27" fill="#ff0000"/>
<rect x="822" y="326" width="5" height="7" fill="#ff0000"/>
<rect x="823" y="327" width="3" height="5" fill="#ff4500"/>
<rect x="832" y="320" width="1" height="7" fill="#ff0000"/>
<rect x="830" y="325" width="5" height="2" fill="#ff0000"/>
<rect x="840" y="300" width="1" height="51" fill="#ff0000"/>
<rect x="838" y="300" width="5" height="26" fill="#ff0000"/>
<rect x="839" y="301" width="3" height="24" fill="#ff4500"/>
<rect x="848" y="290" width="1" height="46" fill="#32cd32"/>
<rect x="846" y="300" width="5" height="35" fill="#32cd32"/>
<rect x="856" y="329" width="1" height="30" fill="#ff0000"/>
<rect x="854" y="334" width="5" height="1" fill="#ff0000"/>
<rect x="864" y="317" width="1" height="36" fill="#ff0000"/>
<rect x="862" y="322" width="5" height="14" fill="#ff0000"/>
<rect x="863" y="323" width="3" height="12" fill="#ff4500"/>
<rect x="872" y="310" width="1" height="26" fill="#32cd32"/>
<rect x="870" y="322" width="5" height="7" fill="#32cd32"/>
<rect x="880" y="327" width="1" height="17" fill="#32cd32"/>
<rect x="878" y="328" width="5" height="15" fill="#32cd32"/>
<rect x="888" y="336" width="1" height="21" fill="#ff0000"/>
<rect x="886" y="336" width="5" height="7" fill="#ff0000"/>
<rect x="887" y="337" width="3" height="5" fill="#ff4500"/>
<rect x="896" y="322" width="1" height="33" fill="#32cd32"/>
<rect x="894" y="336" width="5" height="18" fill="#32cd32"/>
<rect x="904" y="350" width="1" height="69" fill="#32cd32"/>
<rect x="902" y="353" width="5" height="66" fill="#32cd32"/>
<rect x="912" y="403" width="1" height="27" fill="#ff0000"/>
<rect x="910" y="409" width="5" height="10" fill="#ff0000"/>
<rect x="911" y="410" width="3" height="8" fill="#ff4500"/>
<rect x="621" y="282" width="372" height="2" fill="#ff0000"/>
<rect x="632" y="381" width="361" height="2" fill="#99cc00"/>
<rect x="765" y="441" width="227" height="2" fill="#2e8ee6"/>
</g>
<path d="M11 40 L18 40 L14.5 44 Z" fill="#000"/>
<text x="23.5" y="45" font-size="10" fill="#000" stroke="#000" stroke-width="0.06" textLength="65" lengthAdjust="spacingAndGlyphs">USDCNH,Daily</text>
<text x="95.5" y="45" font-size="10" fill="#000" stroke="#000" stroke-width="0.06" textLength="140" lengthAdjust="spacingAndGlyphs">6.71358 6.72523 6.70667 6.72102</text>
</g>
<rect x="5" y="636" width="1198" height="1" fill="#e3e3e3"/>
<rect x="0" y="637" width="1203" height="1" fill="#f0f0f0"/>
<rect x="3" y="638" width="1200" height="1" fill="#000"/>
<rect x="0" y="639" width="1203" height="19" fill="#f0f0f0"/>
<rect x="0" y="659" width="1203" height="3" fill="#f7f7f7"/>
<rect x="4" y="638" width="1" height="20" fill="#696969"/>
<rect x="0" y="657" width="5" height="1" fill="#696969"/>
<text x="21.5" y="653" font-size="12" fill="#6d6d6d" >EURUSD,Daily</text>
<rect x="113" y="641" width="1" height="14" fill="#6d6d6d"/>
<text x="124" y="653" font-size="12" fill="#6d6d6d" >AUDUSD,Daily</text>
<rect x="217" y="641" width="1" height="14" fill="#6d6d6d"/>
<text x="227.5" y="653" font-size="12" fill="#6d6d6d" >USDCHF,Daily</text>
<rect x="318" y="641" width="1" height="14" fill="#6d6d6d"/>
<text x="328.5" y="653" font-size="12" fill="#6d6d6d" >USDCAD,Daily</text>
<text x="536.5" y="653" font-size="12" fill="#6d6d6d" >USDJPY,Weekly</text>
<rect x="637" y="641" width="1" height="14" fill="#6d6d6d"/>
<text x="649" y="653" font-size="12" fill="#6d6d6d" >XAUUSD,M1</text>
<rect x="733" y="641" width="1" height="14" fill="#6d6d6d"/>
<text x="745" y="653" font-size="12" fill="#6d6d6d" >GBPUSD,Daily</text>
<rect x="838" y="641" width="1" height="14" fill="#6d6d6d"/>
<text x="849" y="653" font-size="12" fill="#6d6d6d" >SP500,M15</text>
<rect x="925" y="641" width="1" height="14" fill="#6d6d6d"/>
<text x="937" y="653" font-size="12" fill="#6d6d6d" >GBPUSD,Daily</text>
<rect x="1029" y="641" width="1" height="14" fill="#6d6d6d"/>
<text x="1039.5" y="653" font-size="12" fill="#6d6d6d" >DJ30,H4</text>
<rect x="1097" y="641" width="1" height="14" fill="#6d6d6d"/>
<rect x="421" y="638" width="104" height="19" fill="#000"/>
<rect x="422" y="638" width="102" height="18" fill="#ffffff"/>
<text x="431.5" y="653" font-size="12" fill="#000" >USDCNH,Daily</text>
<clipPath id="tc"><rect x="1100" y="639" width="68" height="20"/></clipPath>
<text x="1107.5" y="653" font-size="12" fill="#6d6d6d" clip-path="url(#tc)">TECH100,H4</text>
<path d="M1177 644.5 L1177 650.5 L1174 647.5 Z" fill="#a0a0a0"/>
<path d="M1193 644.5 L1193 650.5 L1196.5 647.5 Z" fill="#000"/></svg>
</body></html>
